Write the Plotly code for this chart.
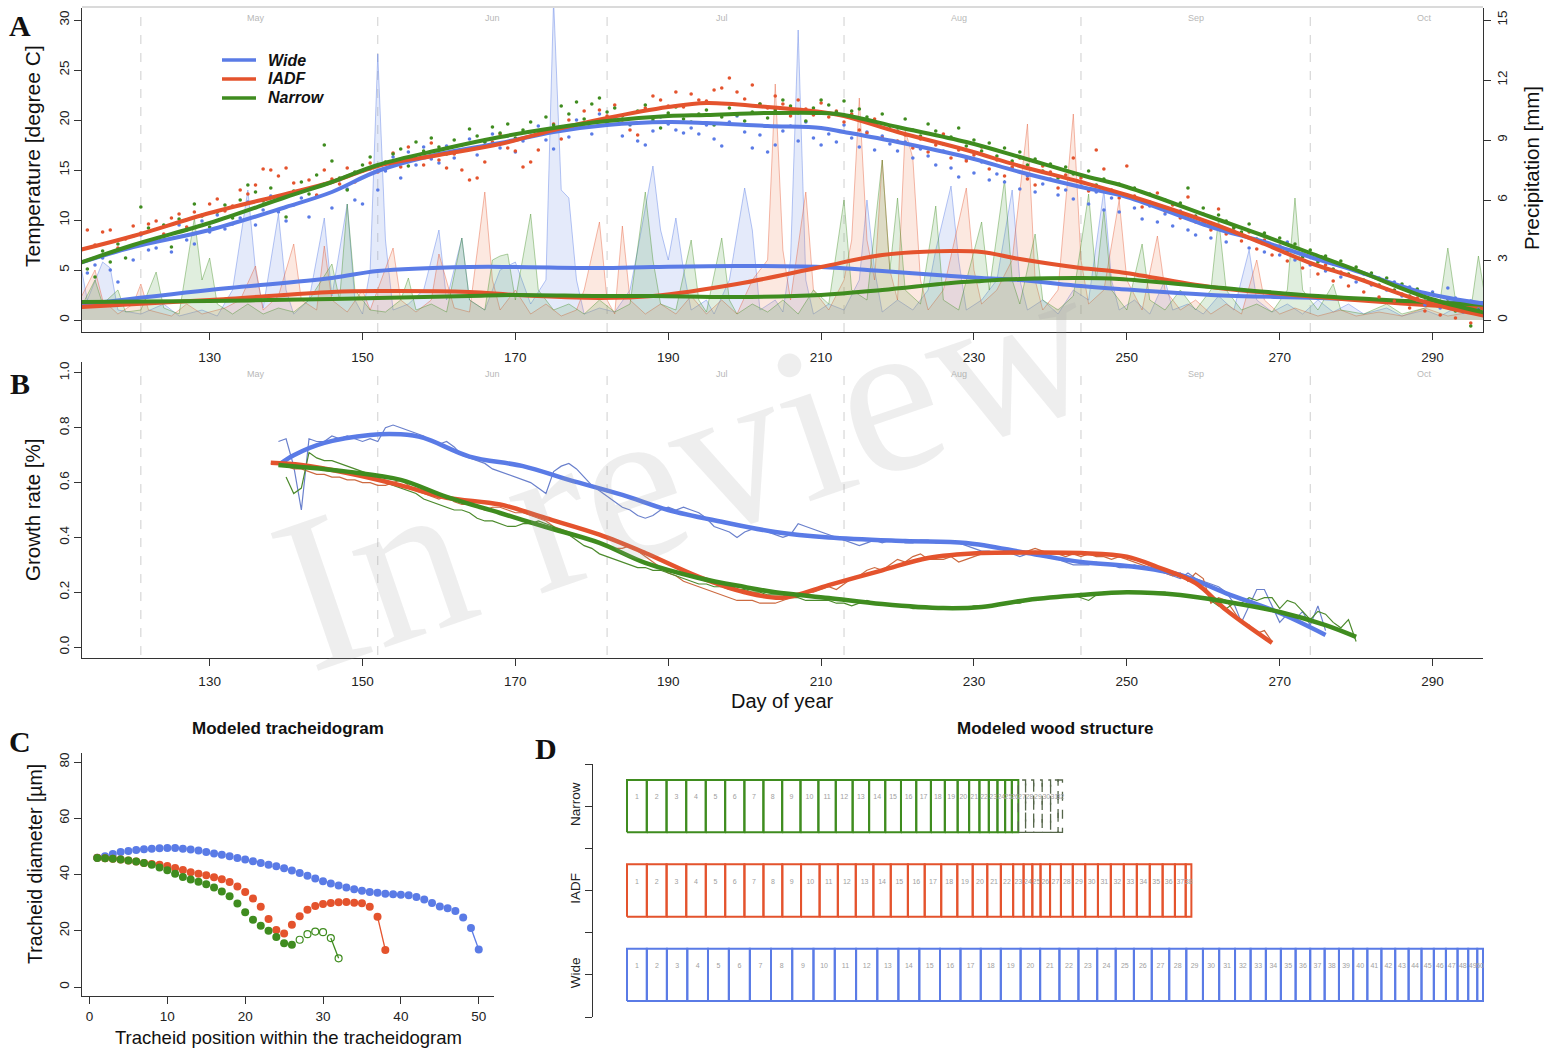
import plotly.graph_objects as go

W, H = 1554, 1049
def px(x): return x / W
def py(y): return 1 - y / H

BLUE = '#5a7be6'; RED = '#e4532d'; GREEN = '#3f8c1f'
BLUE_T = '#6a80cc'; RED_T = '#cc6a40'; GREEN_T = '#4c8a2c'
FONT = 'Liberation Sans, Arial, sans-serif'

# ---------------- Panel A : temperature (daily dots, day 113..297) ----------------
temp_day0 = 113
temp_wide = [
    6.8, 4.7, 5.5, 6.2, 5.0, 3.8, 7.2, 6.0, 8.5, 7.0,
    7.2, 8.3, 6.8, 9.5, 8.0, 7.6, 9.9, 8.8, 10.5, 9.1,
    9.6, 10.2, 11.8, 9.5, 11.0, 12.4, 10.8, 9.9, 11.5, 12.2,
    10.3, 12.4, 13.6, 11.2, 14.0, 13.1, 12.0, 11.6, 15.1, 13.0,
    14.9, 16.3, 14.2, 16.8, 15.5, 17.3, 16.1, 15.7, 17.4, 16.2,
    17.0, 18.1, 16.5, 17.8, 18.6, 17.2, 18.4, 16.8, 17.9, 18.8,
    19.4, 18.0, 17.1, 19.0, 18.3, 20.0, 19.3, 18.6, 20.6, 19.7,
    20.2, 18.4, 19.5, 17.9, 17.5, 18.9, 20.3, 19.6, 19.0, 18.7,
    19.2, 18.6, 19.5, 18.1, 17.4, 19.8, 20.4, 18.8, 17.2, 18.5,
    16.8, 17.5, 18.9, 19.4, 17.9, 19.8, 18.2, 17.5, 18.6, 17.8,
    19.5, 18.2, 17.3, 18.8, 17.0, 18.4, 17.6, 16.9, 17.8, 16.2,
    17.1, 16.4, 15.5, 16.9, 15.2, 14.3, 16.1, 14.7, 15.8, 14.0,
    14.6, 13.8, 15.2, 13.1, 14.4, 12.8, 13.6, 14.1, 12.5, 13.0,
    12.1, 13.4, 11.6, 12.8, 11.0, 12.2, 10.8, 12.5, 11.2, 10.1,
    11.4, 9.8, 10.6, 9.4, 10.9, 9.0, 8.5, 9.7, 8.2, 9.1,
    7.8, 8.9, 8.5, 7.2, 7.9, 6.8, 7.4, 6.5, 7.8, 6.0,
    6.6, 5.5, 6.2, 4.9, 5.6, 4.3, 5.2, 3.8, 4.6, 3.5,
    4.2, 3.0, 3.8, 2.4, 3.3, 2.0, 1.5, 2.8, 1.2, 3.2,
    2.2, 0.8, 1.9, 1.1, 2.6]
temp_iadf = [
    8.3, 9.0, 7.5, 8.8, 9.0, 7.2, 8.1, 9.4, 8.7, 9.6,
    9.9, 8.6, 10.2, 10.6, 9.3, 10.8, 10.5, 11.6, 12.1, 10.9,
    11.4, 13.0, 12.6, 13.5, 15.1, 15.0, 14.4, 15.2, 13.7, 12.9,
    14.0, 12.5, 15.0, 14.1, 13.6, 15.2, 13.8, 14.9, 15.7, 14.8,
    15.6, 16.7, 15.3, 17.3, 16.2, 15.5, 17.7, 16.0, 15.2, 16.6,
    15.0, 14.0, 14.2, 15.8, 17.8, 18.6, 17.2, 16.9, 15.3, 15.8,
    17.0, 18.8, 19.6, 18.1, 20.0, 19.2, 20.9, 19.8, 21.0, 20.4,
    21.5, 20.0, 19.0, 18.5, 21.2, 22.4, 22.0, 21.4, 22.8, 21.3,
    22.6, 22.0, 21.9, 23.0, 23.2, 24.2, 22.8, 22.1, 23.5, 21.6,
    21.2, 22.4, 21.6, 20.4, 22.0, 21.1, 20.5, 21.7, 20.3, 20.9,
    19.8, 20.6, 19.0, 18.7, 20.1, 18.2, 19.4, 17.9, 18.5, 17.2,
    18.1, 16.8, 17.5, 18.6, 16.2, 17.0, 15.9, 16.5, 17.3, 15.1,
    16.0, 14.4, 15.3, 16.2, 14.1, 13.5, 15.4, 14.8, 13.2, 14.5,
    16.2, 14.2, 12.9, 17.0, 15.1, 13.0, 12.2, 15.4, 12.4, 11.3,
    11.8, 12.7, 10.9, 11.5, 10.2, 12.3, 9.8, 10.6, 9.0, 11.1,
    8.6, 9.3, 7.9, 8.8, 7.1, 8.0, 6.5, 7.4, 5.9, 6.8,
    5.2, 6.3, 4.6, 5.5, 3.9, 4.8, 3.4, 4.2, 2.8, 3.6,
    2.3, 3.1, 1.9, 2.6, 1.2, 2.2, 0.9, 1.6, 0.5, 1.3,
    0.2, 0.9, -0.3, 0.6, 0.1]
temp_narrow = [
    6.4, 5.1, 4.3, 6.9, 5.8, 7.6, 6.2, 8.4, 11.3, 9.2,
    8.0, 9.5, 7.3, 10.1, 9.0, 11.6, 10.4, 9.3, 10.8, 11.5,
    10.2, 12.0, 13.5, 12.8, 11.9, 13.2, 12.4, 10.3, 12.9, 13.8,
    12.6, 14.5, 17.5, 15.9, 14.2, 13.0, 14.8, 15.5, 16.3, 14.9,
    15.8, 16.6, 17.1, 15.4, 17.8, 16.9, 18.2, 17.3, 16.6, 18.0,
    17.5, 19.1, 18.4, 17.8, 19.3, 18.7, 19.6, 18.2, 19.0, 19.8,
    18.9, 20.3, 19.5, 21.4, 20.6, 21.8, 20.1, 21.6, 22.2, 20.8,
    21.2, 20.4, 19.6, 20.9, 21.5, 20.0, 19.2, 20.7, 21.3, 20.1,
    19.8, 20.6, 21.0, 19.5, 20.3, 21.2, 20.5, 19.9, 20.8, 21.6,
    20.2, 21.0, 22.0, 21.4, 20.7, 19.9, 21.2, 22.0, 21.5, 20.8,
    21.9, 20.9, 21.1, 20.3, 19.8, 20.6, 19.4, 18.9, 20.1, 19.0,
    18.4, 19.6, 18.9, 17.6, 18.3, 19.2, 17.4, 18.0, 16.9, 17.7,
    16.4, 17.2, 15.9, 16.8, 15.5, 16.1, 14.9, 15.6, 14.2, 15.3,
    14.6, 13.8, 14.9, 13.5, 14.1, 12.9, 13.6, 12.4, 13.2, 11.8,
    12.6, 11.3, 12.0, 10.9, 11.7, 13.2, 10.4, 11.2, 9.6, 10.5,
    9.9, 9.2, 8.8, 9.6, 8.1, 8.7, 7.5, 8.2, 6.9, 7.6,
    6.3, 7.0, 5.8, 6.4, 5.1, 5.9, 4.6, 5.3, 4.0, 4.7,
    3.5, 4.2, 3.0, 3.6, 2.4, 3.1, 1.9, 2.6, 1.5, 2.1,
    0.9, 1.6, -0.6, 1.0, 2.2]

# smoothed temperature
tsmooth_days = [113, 120, 130, 140, 146, 152, 160, 168, 175, 182, 190, 195, 203,
                210, 213, 220, 229, 236, 244, 250, 261, 268, 274, 280, 289, 297]
tsmooth_wide = [5.7, 7.3, 9.0, 11.3, 12.8, 14.9, 16.6, 17.7, 18.8, 19.5, 19.8, 19.7, 19.4,
                19.2, 18.8, 17.8, 16.3, 14.8, 13.3, 12.3, 9.3, 7.8, 6.3, 4.9, 2.7, 1.6]
tsmooth_iadf = [7.0, 8.4, 10.7, 12.6, 13.8, 15.4, 16.5, 17.6, 19.0, 20.2, 21.3, 21.7, 21.3,
                20.8, 20.4, 18.8, 17.0, 15.4, 13.8, 12.5, 9.7, 7.6, 5.7, 4.2, 1.8, 0.4]
tsmooth_narrow = [5.7, 7.5, 9.7, 12.3, 13.8, 15.5, 17.0, 18.3, 19.2, 19.9, 20.4, 20.5, 20.7,
                  20.7, 20.5, 19.3, 17.8, 16.3, 14.5, 13.3, 10.3, 8.4, 6.7, 5.0, 2.3, 0.7]

# precipitation (vertices)
prec_wide_days = [113,114,116,117,118,121,124,126,129,131,133,135,136,137,139,140,141,143,145,146,
                  148,149,150,151,152,153,154,156,158,160,161,163,164,166,168,170,172,174,175,176,
                  177,178,179,181,183,185,186,188,189,190,191,192,193,195,196,198,200,201,202,204,
                  205,206,207,208,209,211,213,215,216,217,218,220,222,224,225,227,228,229,231,233,
                  235,236,237,239,241,243,245,247,248,249,251,253,255,256,258,260,262,264,266,267,
                  269,271,273,275,277,279,281,284,286,289,291,294,297]
prec_wide = [3.0,1.0,2.9,2.6,0.5,0.3,0.8,0.2,0.5,0.2,1.5,6.5,2.5,0.6,5.3,1.5,0.3,1.0,5.1,1.2,
             5.8,1.0,0.3,2.5,13.3,4.0,0.5,0.8,1.5,4.5,1.0,4.1,1.0,0.5,2.5,2.9,0.8,2.0,16.0,6.5,
             6.1,2.0,0.3,0.6,0.4,1.5,3.5,7.7,4.5,3.0,5.1,2.5,0.5,1.0,0.3,2.0,6.6,4.5,0.5,1.0,
             0.4,3.0,14.5,2.0,0.3,0.8,0.5,2.0,6.0,2.5,0.4,1.0,0.5,1.5,3.5,6.7,3.0,0.5,1.0,2.0,
             6.5,2.0,0.5,1.0,0.3,1.5,1.0,6.5,2.0,0.5,1.0,0.3,2.0,0.5,0.8,0.3,1.2,0.5,3.5,1.0,
             0.4,0.8,0.3,1.0,0.4,0.8,0.3,0.6,0.2,0.5,0.2,0.8,0.3]
prec_iadf_days = [113,115,116,118,120,121,122,125,127,129,132,134,136,137,139,141,142,144,145,146,
                  148,150,151,154,155,157,159,160,162,164,166,167,168,170,172,174,176,178,179,181,
                  182,183,184,185,187,189,191,193,195,197,199,201,203,204,205,206,208,209,211,213,
                  214,215,216,217,218,219,220,221,222,223,224,226,229,230,231,233,235,237,238,239,
                  241,243,244,245,247,249,250,252,254,255,257,259,261,263,265,267,268,270,272,275,
                  278,280,283,286,289,292,295,297]
prec_iadf = [1.0,2.5,1.0,0.3,0.8,1.8,0.5,0.2,0.8,0.3,0.6,1.0,2.7,0.5,1.2,3.8,1.0,0.5,3.7,1.0,
             0.4,1.5,0.5,3.6,1.0,0.4,1.0,3.3,0.6,0.4,6.4,2.0,0.5,1.5,0.3,0.8,0.2,0.5,1.5,4.9,
             1.0,0.3,4.7,1.0,0.3,0.8,0.3,1.2,0.3,1.0,0.3,2.0,3.0,11.8,3.5,1.0,6.4,1.5,0.5,2.0,
             4.0,11.1,4.0,2.0,8.0,2.5,1.0,9.5,8.1,2.0,0.5,1.5,6.6,2.5,0.8,1.5,3.0,9.8,2.0,0.5,
             1.5,10.3,3.0,0.8,1.5,6.0,2.0,0.5,4.2,1.5,0.5,1.0,0.3,0.8,0.3,3.0,1.0,0.3,0.6,0.2,
             0.5,0.2,0.4,0.2,0.6,0.2,0.4,0.1]
prec_narrow_days = [113,115,116,118,119,121,123,124,126,128,129,130,131,133,135,137,139,141,143,146,
                    147,148,149,151,153,155,156,157,159,161,163,164,166,167,168,169,170,172,173,175,
                    177,179,181,183,185,187,188,189,191,193,194,195,197,198,199,201,203,205,207,209,
                    211,213,214,216,218,219,220,221,223,225,226,228,231,232,234,235,236,238,239,241,
                    243,245,246,247,248,250,252,253,255,257,259,261,262,263,265,267,269,271,272,273,
                    275,277,278,281,284,286,289,291,292,293,295,296,297]
prec_narrow = [0.5,2.0,0.8,1.5,0.4,0.5,2.4,0.6,0.3,5.1,2.0,3.1,0.8,0.3,0.8,0.3,0.6,0.4,1.0,2.8,
               1.0,5.8,1.5,0.5,0.4,1.0,2.1,0.5,0.8,0.4,4.1,1.0,0.5,3.0,3.2,3.3,1.0,5.3,1.5,0.5,
               0.8,0.3,1.0,0.4,0.8,6.4,3.0,0.8,0.5,4.0,1.0,0.4,4.1,1.0,0.3,0.8,0.4,1.0,0.3,1.5,
               0.8,6.0,1.5,1.0,8.0,2.5,6.1,1.5,0.8,5.7,1.0,0.5,4.9,1.5,7.0,2.0,0.8,4.3,1.0,0.5,
               1.2,6.3,2.0,5.5,1.5,0.5,3.8,1.0,0.5,1.5,0.5,1.5,5.1,1.5,0.5,0.8,0.4,1.5,6.1,1.5,
               0.5,1.8,0.5,0.3,0.8,0.3,0.6,1.0,3.6,1.0,0.5,3.2,0.8]

# smoothed precipitation
psmooth_days = [113, 130, 146, 152, 164, 170, 181, 188, 199, 210, 218, 227, 231, 236, 244, 249, 261, 275, 289, 297]
psmooth_wide = [0.75, 1.5, 2.1, 2.45, 2.65, 2.65, 2.6, 2.65, 2.7, 2.65, 2.45, 2.2, 2.1, 2.0, 1.7, 1.55, 1.25, 1.1, 0.9, 0.85]
psmooth_iadf = [0.65, 1.0, 1.4, 1.45, 1.4, 1.25, 1.1, 1.2, 1.8, 2.65, 3.25, 3.45, 3.4, 3.05, 2.6, 2.4, 1.65, 1.15, 0.75, 0.6]
psmooth_narrow = [0.9, 0.95, 1.05, 1.1, 1.2, 1.25, 1.2, 1.2, 1.15, 1.25, 1.5, 1.85, 1.95, 2.05, 2.1, 2.05, 1.65, 1.2, 0.9, 0.75]

# months
month_starts = [121, 152, 182, 213, 244, 274]
month_mid = [136, 167, 197, 228, 259, 289]
month_names = ['May', 'Jun', 'Jul', 'Aug', 'Sep', 'Oct']

# ---------------- Panel B : growth rate ----------------
gr_wide_day0 = 139
gr_wide = [0.75,0.76,0.66,0.50,0.76,0.75,0.75,0.77,0.76,0.77,
           0.76,0.75,0.76,0.75,0.80,0.81,0.80,0.79,0.78,0.77,
           0.75,0.74,0.75,0.73,0.70,0.69,0.68,0.67,0.65,0.64,
           0.63,0.62,0.61,0.60,0.58,0.56,0.64,0.66,0.67,0.65,
           0.62,0.59,0.57,0.55,0.53,0.51,0.50,0.48,0.47,0.48,
           0.50,0.51,0.50,0.51,0.50,0.49,0.47,0.44,0.43,0.42,
           0.40,0.42,0.43,0.43,0.42,0.41,0.40,0.41,0.45,0.44,
           0.43,0.42,0.41,0.40,0.39,0.38,0.37,0.38,0.39,0.38,
           0.39,0.39,0.38,0.38,0.39,0.39,0.38,0.38,0.38,0.38,
           0.37,0.36,0.35,0.35,0.34,0.35,0.34,0.33,0.34,0.35,
           0.34,0.33,0.32,0.31,0.30,0.30,0.30,0.31,0.30,0.30,
           0.29,0.29,0.30,0.29,0.28,0.28,0.27,0.26,0.25,0.27,
           0.25,0.24,0.23,0.22,0.20,0.16,0.09,0.15,0.21,0.21,
           0.15,0.09,0.12,0.10,0.13,0.08,0.15,0.06]
gr_iadf_day0 = 138
gr_iadf = [0.67,0.67,0.66,0.65,0.65,0.64,0.63,0.63,0.62,0.62,
           0.61,0.61,0.60,0.60,0.59,0.59,0.60,0.61,0.59,0.57,
           0.56,0.55,0.54,0.55,0.53,0.52,0.52,0.51,0.50,0.51,
           0.51,0.50,0.49,0.49,0.48,0.47,0.46,0.44,0.43,0.42,
           0.41,0.40,0.39,0.38,0.37,0.36,0.36,0.37,0.35,0.33,
           0.31,0.29,0.27,0.26,0.24,0.23,0.22,0.21,0.20,0.19,
           0.18,0.17,0.17,0.17,0.16,0.16,0.16,0.17,0.18,0.19,
           0.20,0.20,0.21,0.22,0.21,0.23,0.25,0.26,0.28,0.29,
           0.28,0.30,0.32,0.31,0.33,0.34,0.32,0.32,0.32,0.33,
           0.31,0.32,0.33,0.34,0.34,0.34,0.34,0.34,0.34,0.35,
           0.36,0.35,0.34,0.34,0.33,0.34,0.33,0.34,0.33,0.33,
           0.32,0.33,0.32,0.31,0.30,0.29,0.28,0.27,0.26,0.27,
           0.24,0.27,0.25,0.16,0.18,0.17,0.13,0.09,0.08,0.05,
           0.06,0.02]
gr_narrow_day0 = 140
gr_narrow = [0.62,0.56,0.58,0.71,0.69,0.68,0.68,0.67,0.66,0.65,
             0.64,0.63,0.61,0.60,0.59,0.58,0.57,0.56,0.54,0.53,
             0.52,0.51,0.50,0.50,0.49,0.47,0.46,0.46,0.45,0.44,
             0.44,0.45,0.45,0.46,0.45,0.44,0.42,0.41,0.39,0.37,
             0.36,0.34,0.33,0.32,0.31,0.30,0.29,0.29,0.28,0.28,
             0.27,0.26,0.25,0.24,0.23,0.23,0.22,0.22,0.21,0.21,
             0.21,0.20,0.20,0.19,0.19,0.19,0.18,0.18,0.17,0.17,
             0.17,0.17,0.16,0.16,0.15,0.16,0.17,0.16,0.16,0.15,
             0.15,0.15,0.14,0.14,0.14,0.14,0.14,0.14,0.14,0.14,
             0.15,0.15,0.15,0.15,0.16,0.16,0.16,0.17,0.17,0.18,
             0.18,0.18,0.19,0.19,0.18,0.17,0.19,0.20,0.20,0.20,
             0.20,0.20,0.20,0.20,0.20,0.20,0.19,0.19,0.19,0.18,
             0.18,0.17,0.15,0.14,0.16,0.16,0.18,0.17,0.18,0.18,
             0.14,0.17,0.16,0.13,0.10,0.13,0.12,0.09,0.07,0.10,
             0.02]

grs_wide_days = [139,141,145,151,155,158,164,171,177,184,190,197,204,211,221,229,237,244,250,257,263,270,276]
grs_wide = [0.664,0.70,0.745,0.774,0.776,0.763,0.695,0.66,0.61,0.555,0.50,0.457,0.42,0.40,0.387,0.38,0.343,0.31,0.296,0.263,0.196,0.124,0.044]
grs_iadf_days = [138,142,148,155,161,168,174,181,187,194,200,205,211,218,224,231,237,244,250,254,259,263,269]
grs_iadf = [0.672,0.664,0.635,0.59,0.545,0.52,0.47,0.41,0.343,0.256,0.20,0.18,0.226,0.28,0.325,0.343,0.345,0.343,0.33,0.292,0.233,0.135,0.015]
grs_narrow_days = [139,148,155,161,168,174,181,187,194,200,204,211,218,226,231,237,244,250,257,263,270,276,280]
grs_narrow = [0.664,0.64,0.61,0.548,0.489,0.438,0.38,0.307,0.252,0.219,0.20,0.179,0.157,0.142,0.146,0.172,0.19,0.20,0.19,0.165,0.128,0.08,0.037]

# ---------------- Panel C : tracheidograms (µm) ----------------
trach_wide = [46.0,46.5,47.3,48.0,48.4,48.7,49.0,49.2,49.3,49.4,
              49.4,49.2,48.9,48.5,48.0,47.5,47.0,46.5,45.9,45.3,
              44.7,44.1,43.5,42.9,42.2,41.4,40.5,39.6,38.6,37.6,
              36.8,36.1,35.4,34.8,34.2,33.8,33.5,33.2,33.0,32.8,
              32.6,32.0,31.1,29.9,28.6,28.0,27.0,24.7,21.0,13.3]
trach_iadf = [46.0,45.8,45.6,45.3,45.0,44.6,44.1,43.7,43.5,43.0,
              42.3,41.6,40.8,40.3,39.7,39.0,38.3,37.3,35.7,33.8,
              31.5,28.5,24.2,20.3,19.0,22.1,25.2,27.5,28.8,29.5,
              29.9,30.1,30.2,30.0,29.8,28.5,25.0,13.2]
trach_narrow = [45.9,45.8,45.6,45.3,45.0,44.6,44.1,43.5,42.5,41.5,
                40.3,39.1,38.2,37.4,36.5,35.4,34.0,32.3,29.7,26.6,
                23.9,21.8,20.0,17.8,15.6,15.0]
trach_narrow_open = [16.8,18.8,19.7,19.5,17.4,10.2]

ring_names = ['Wide', 'IADF', 'Narrow']

# ======================================================================
fig = go.Figure()

def days_from(d0, vals):
    return list(range(d0, d0 + len(vals)))

# --- A: precipitation areas (yaxis 'y' = precipitation, right side)
for d, v, lc, fc in [(prec_wide_days, prec_wide, 'rgba(90,123,230,0.55)', 'rgba(120,150,230,0.20)'),
                     (prec_iadf_days, prec_iadf, 'rgba(228,83,45,0.5)', 'rgba(240,140,100,0.20)'),
                     (prec_narrow_days, prec_narrow, 'rgba(63,140,31,0.5)', 'rgba(100,170,90,0.20)')]:
    fig.add_trace(go.Scatter(x=d, y=v, mode='lines', fill='tozeroy', fillcolor=fc,
                             line=dict(color=lc, width=0.8), xaxis='x', yaxis='y',
                             showlegend=False, hoverinfo='skip'))
for v, c in [(psmooth_wide, BLUE), (psmooth_iadf, RED), (psmooth_narrow, GREEN)]:
    fig.add_trace(go.Scatter(x=psmooth_days, y=v, mode='lines', line=dict(color=c, width=4, shape='spline'),
                             xaxis='x', yaxis='y', showlegend=False, hoverinfo='skip'))

# --- A: temperature dots + smooth (yaxis 'y2', left side)
for v, c in [(temp_wide, BLUE), (temp_iadf, RED), (temp_narrow, GREEN)]:
    fig.add_trace(go.Scatter(x=days_from(temp_day0, v), y=v, mode='markers',
                             marker=dict(color=c, size=3.6), xaxis='x', yaxis='y2',
                             showlegend=False, hoverinfo='skip'))
for v, c in [(tsmooth_wide, BLUE), (tsmooth_iadf, RED), (tsmooth_narrow, GREEN)]:
    fig.add_trace(go.Scatter(x=tsmooth_days, y=v, mode='lines',
                             line=dict(color=c, width=4, shape='spline'), xaxis='x', yaxis='y2',
                             showlegend=False, hoverinfo='skip'))

# --- B: growth rate
for d0, v, c in [(gr_wide_day0, gr_wide, BLUE_T), (gr_iadf_day0, gr_iadf, RED_T), (gr_narrow_day0, gr_narrow, GREEN_T)]:
    fig.add_trace(go.Scatter(x=days_from(d0, v), y=v, mode='lines', line=dict(color=c, width=1.2),
                             xaxis='x2', yaxis='y3', showlegend=False, hoverinfo='skip'))
for d, v, c in [(grs_wide_days, grs_wide, BLUE), (grs_iadf_days, grs_iadf, RED), (grs_narrow_days, grs_narrow, GREEN)]:
    fig.add_trace(go.Scatter(x=d, y=v, mode='lines', line=dict(color=c, width=4.5, shape='spline'),
                             xaxis='x2', yaxis='y3', showlegend=False, hoverinfo='skip'))

# --- C: tracheidogram
for v, c in [(trach_wide, BLUE), (trach_iadf, RED)]:
    n = len(v)
    fig.add_trace(go.Scatter(x=[n - 1, n], y=v[-2:], mode='lines', line=dict(color=c, width=1.3),
                             xaxis='x3', yaxis='y4', showlegend=False, hoverinfo='skip'))
nn = len(trach_narrow)
xo = list(range(nn + 1, nn + 1 + len(trach_narrow_open)))
fig.add_trace(go.Scatter(x=xo[-2:], y=trach_narrow_open[-2:], mode='lines', line=dict(color=GREEN, width=1.3),
                         xaxis='x3', yaxis='y4', showlegend=False, hoverinfo='skip'))
for v, c in [(trach_wide, BLUE), (trach_iadf, RED), (trach_narrow, GREEN)]:
    fig.add_trace(go.Scatter(x=list(range(1, len(v) + 1)), y=v, mode='markers',
                             marker=dict(color=c, size=8), xaxis='x3', yaxis='y4',
                             showlegend=False, hoverinfo='skip'))
fig.add_trace(go.Scatter(x=xo, y=trach_narrow_open, mode='markers',
                         marker=dict(color=GREEN, size=7, symbol='circle-open', line=dict(width=1.2)),
                         xaxis='x3', yaxis='y4', showlegend=False, hoverinfo='skip'))

# --- D: wood structure
HALF = 0.31
def cells(vals, row, start=0.0):
    xs, ys, tx, ty = [], [], [], []
    left = start
    for i, v in enumerate(vals):
        right = left + v
        xs += [left, right, right, left, left, None]
        ys += [row - HALF, row - HALF, row + HALF, row + HALF, row - HALF, None]
        tx.append((left + right) / 2); ty.append(row + 0.1)
        left = right
    return xs, ys, tx, ty, left

label_x, label_y, label_t = [], [], []
for row, v, c in [(1, trach_wide, BLUE), (2, trach_iadf, RED), (3, trach_narrow, GREEN)]:
    xs, ys, tx, ty, end = cells(v, row)
    fig.add_trace(go.Scatter(x=xs, y=ys, mode='lines', line=dict(color=c, width=2),
                             xaxis='x4', yaxis='y5', showlegend=False, hoverinfo='skip'))
    label_x += tx; label_y += ty; label_t += [str(i + 1) for i in range(len(v))]
    if row == 3:
        xs2, ys2, tx2, ty2, _ = cells(trach_narrow_open, row, start=end)
        fig.add_trace(go.Scatter(x=xs2, y=ys2, mode='lines', line=dict(color='#55664a', width=1.3, dash='dash'),
                                 xaxis='x4', yaxis='y5', showlegend=False, hoverinfo='skip'))
        label_x += tx2; label_y += ty2
        label_t += [str(len(v) + i + 1) for i in range(len(trach_narrow_open))]
fig.add_trace(go.Scatter(x=label_x, y=label_y, mode='text', text=label_t,
                         textfont=dict(size=7, color='#a0a0a0', family=FONT),
                         xaxis='x4', yaxis='y5', showlegend=False, hoverinfo='skip'))

# ======================================================================
tickfont = dict(family=FONT, size=13.5, color='#222')
axcommon = dict(showgrid=False, zeroline=False, showline=True, linecolor='#333', linewidth=1.2,
                ticks='outside', ticklen=7, tickcolor='#333', tickwidth=1.2, tickfont=tickfont)

sum_w = sum(trach_wide)
scale_d = (1483 - 627) / sum_w
pad_d = 10 / scale_d

xA = [px(82), px(1483)]
day_ticks = list(range(130, 291, 20))
fig.update_layout(
    width=W, height=H, autosize=False,
    margin=dict(l=0, r=0, t=0, b=0),
    paper_bgcolor='white', plot_bgcolor='white',
    font=dict(family=FONT, color='#222'),
    showlegend=False,
    xaxis=dict(domain=xA, range=[113.3, 296.6], anchor='y', tickvals=day_ticks,
               ticklabelstandoff=6, **axcommon),
    yaxis=dict(domain=[py(332), py(8)], range=[-0.6, 15.6], side='right', anchor='x',
               tickvals=[0, 3, 6, 9, 12, 15], tickangle=-90, **axcommon),
    yaxis2=dict(overlaying='y', side='left', range=[-1.2, 31.2], anchor='x',
                tickvals=[0, 5, 10, 15, 20, 25, 30], tickangle=-90, **axcommon),
    xaxis2=dict(domain=xA, range=[113.3, 296.6], anchor='y3', tickvals=day_ticks,
                ticklabelstandoff=4, **axcommon),
    yaxis3=dict(domain=[py(658), py(362)], range=[-0.04, 1.04], anchor='x2',
                tickvals=[0, 0.2, 0.4, 0.6, 0.8, 1.0], ticktext=['0.0', '0.2', '0.4', '0.6', '0.8', '1.0'],
                tickangle=-90, **axcommon),
    xaxis3=dict(domain=[px(82), px(494)], range=[-0.96, 51.96], anchor='y4',
                tickvals=[0, 10, 20, 30, 40, 50], ticklabelstandoff=1, **axcommon),
    yaxis4=dict(domain=[py(996), py(753)], range=[-3.2, 83.2], anchor='x3',
                tickvals=[0, 20, 40, 60, 80], tickangle=-90, **axcommon),
    xaxis4=dict(domain=[px(617), px(1493)], range=[-pad_d, sum_w + pad_d], anchor='y5', visible=False),
    yaxis5=dict(domain=[py(1017), py(764)], range=[0.5, 3.5], anchor='free', position=px(592),
                tickvals=[0.5, 1, 1.5, 2, 2.5, 3, 3.5],
                ticktext=['', ring_names[0], '', ring_names[1], '', ring_names[2], ''],
                tickangle=-90, **axcommon),
)

shapes = []
shapes.append(dict(type='line', xref='paper', yref='paper', x0=px(82), x1=px(1483), y0=py(7), y1=py(7),
                   line=dict(color='#b5b5b5', width=1)))
for d in month_starts:
    shapes.append(dict(type='line', xref='x', yref='y domain', x0=d, x1=d, y0=0, y1=1,
                       line=dict(color='#cfcfcf', width=1, dash='dash'), layer='below'))
    shapes.append(dict(type='line', xref='x2', yref='y3 domain', x0=d, x1=d, y0=0.01, y1=0.97,
                       line=dict(color='#cfcfcf', width=1, dash='dash'), layer='below'))
# legend (line keys)
legend_y = [60, 79, 98]
for yy, c in zip(legend_y, [BLUE, RED, GREEN]):
    shapes.append(dict(type='line', xref='paper', yref='paper', x0=px(222), x1=px(256), y0=py(yy), y1=py(yy),
                       line=dict(color=c, width=3.5)))
fig.update_layout(shapes=shapes)

ann = []
for d, m in zip(month_mid, month_names):
    ann.append(dict(x=d, y=0.99, xref='x', yref='y domain', text=m, showarrow=False,
                    font=dict(size=9, color='#b8b8b8', family=FONT)))
    ann.append(dict(x=d, y=0.982, xref='x2', yref='y3 domain', text=m, showarrow=False,
                    font=dict(size=9, color='#b8b8b8', family=FONT)))

def txt(x, y, s, size, angle=0, bold=False, family=FONT, color='#111', xanchor='center'):
    return dict(x=px(x), y=py(y), xref='paper', yref='paper', text=('<b>%s</b>' % s) if bold else s,
                showarrow=False, textangle=angle, font=dict(size=size, family=family, color=color),
                xanchor=xanchor, yanchor='middle')

SERIF = 'Liberation Serif, Times New Roman, serif'
for yy, n in zip(legend_y, ring_names):
    ann.append(txt(266, yy, '<b><i>%s</i></b>' % n, 16, xanchor='left'))
ann += [
    txt(20, 25, 'A', 30, bold=True, family=SERIF),
    txt(20, 384, 'B', 30, bold=True, family=SERIF),
    txt(20, 741, 'C', 30, bold=True, family=SERIF),
    txt(546, 748, 'D', 30, bold=True, family=SERIF),
    txt(33, 156, 'Temperature [degree C]', 21, angle=-90),
    txt(1531, 168, 'Precipitation [mm]', 20.5, angle=-90),
    txt(32, 510, 'Growth rate [%]', 20.5, angle=-90),
    txt(782, 701, 'Day of year', 20),
    txt(35, 864, 'Tracheid diameter [µm]', 19.5, angle=-90),
    txt(288, 1037, 'Tracheid position within the tracheidogram', 18.5),
    txt(288, 728, 'Modeled tracheidogram', 17, bold=True),
    txt(1055, 728, 'Modeled wood structure', 17, bold=True),
    txt(685, 465, 'In review', 222, angle=-19, family=SERIF, color='rgba(160,160,160,0.18)'),
]
fig.update_layout(annotations=ann)

fig.write_html("out.html", config={'displayModeBar': False},
               post_script="document.body.style.margin='0';")
